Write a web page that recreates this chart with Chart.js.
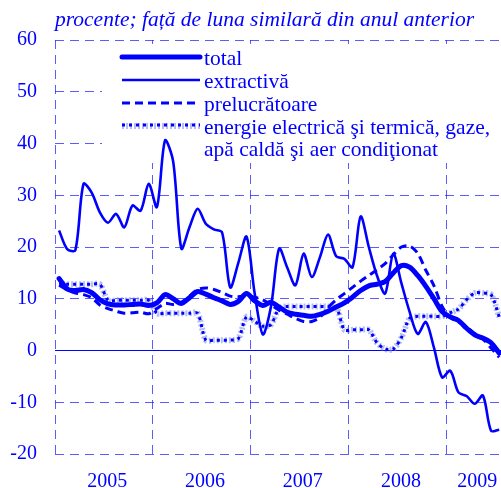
<!DOCTYPE html>
<html>
<head>
<meta charset="utf-8">
<script src="https://cdn.jsdelivr.net/npm/chart.js@4.4.1/dist/chart.umd.min.js"></script>
<style>
html, body { margin: 0; padding: 0; background: #fff; overflow: hidden; }
#wrap { width: 501px; height: 488px; }
</style>
</head>
<body>
<div id="wrap"><canvas id="grafic" width="501" height="488"></canvas></div>
<script>
// luni: ianuarie 2005 - iulie 2009 (index 0..54)
const ani = ['2005', '2006', '2007', '2008', '2009'];

const total = [
    13.9, 11.9, 11.6, 11.8, 11.2, 9.8, 9.0, 8.8, 8.8, 8.9, 9.0, 8.7,
    9.2, 10.8, 10.0, 9.1, 10.2, 11.4, 10.9, 10.2, 9.6, 8.9, 9.5, 11.0,
    9.6, 8.7, 9.3, 8.4, 7.4, 7.0, 6.8, 6.6, 7.0, 7.6, 8.4, 9.2,
    10.3, 11.6, 12.5, 12.8, 13.3, 15.0, 16.4, 16.1, 14.5, 12.4, 10.0, 7.5,
    6.5, 5.8, 4.3, 3.0, 2.4, 1.5, -0.5
];
const extractiva = [
    23.2, 19.6, 19.4, 32.2, 30.5, 26.7, 24.7, 26.4, 23.8, 28.0, 27.0, 32.2,
    27.7, 40.6, 36.5, 19.7, 23.8, 27.4, 24.5, 23.4, 22.8, 12.2, 17.0, 22.0,
    11.0, 3.1, 8.5, 19.7, 16.0, 12.6, 18.7, 14.2, 18.0, 22.4, 18.2, 17.7,
    16.1, 25.9, 20.0, 14.5, 11.0, 18.7, 13.0, 7.5, 3.2, 5.5, 0.5, -5.2,
    -3.9, -8.1, -8.8, -10.3, -8.7, -15.5, -15.3
];
const prelucratoare = [
    12.6, 11.7, 11.1, 10.8, 10.2, 8.8, 8.1, 7.6, 7.2, 7.3, 7.4, 7.1,
    8.1, 9.1, 8.9, 9.3, 10.5, 11.8, 12.1, 11.8, 11.2, 10.5, 10.4, 10.6,
    10.3, 9.8, 8.8, 7.8, 7.0, 6.2, 5.6, 5.6, 6.4, 8.3, 9.8, 11.0,
    12.2, 13.4, 14.5, 15.6, 16.8, 18.5, 20.0, 20.2, 18.8, 15.5, 12.5, 8.5,
    6.4, 5.5, 4.5, 3.3, 2.2, 0.5, -1.3
];
const energie = [
    12.8, 12.8, 12.8, 12.8, 12.8, 12.8, 9.7, 9.7, 9.7, 9.7, 9.7, 9.7,
    7.2, 7.2, 7.2, 7.2, 7.2, 7.2, 2.0, 2.0, 2.0, 2.0, 2.3, 6.5,
    5.6, 4.7, 5.0, 8.2, 8.5, 8.5, 8.5, 8.5, 8.5, 8.5, 8.4, 4.0,
    4.0, 4.0, 4.0, 1.5, 0.3, 0.3, 2.5, 6.2, 6.6, 6.6, 6.6, 6.6,
    7.3, 8.0, 9.8, 11.1, 11.1, 10.8, 6.5
];
const serii = ['total', 'extractivă', 'prelucrătoare', 'energie electrică şi termică, gaze,', 'apă caldă şi aer condiţionat'];
const titlu = 'procente; față de luna similară din anul anterior';

const ALBASTRU = '#0000ff';
const GRILA = 'rgba(30, 30, 255, 0.72)';
const DESCHIS = 'rgba(120, 135, 235, 0.55)';
const FONT = '"Liberation Serif", "Times New Roman", serif';

function puncte(serie) {
    return serie.map((v, i) => ({ x: i, y: v }));
}

// titlul si legenda desenate direct pe canvas
const legenda = {
    id: 'legenda',
    beforeDatasetsDraw(chart) {
        const c = chart.ctx;
        c.save();
        c.fillStyle = '#fff';
        c.fillRect(102, 44, chart.width - 102, 119);
        const x0 = 122, x1 = 200, xt = 204;
        const linie = (y, w, dash, col, cap) => {
            c.beginPath();
            c.setLineDash(dash);
            c.lineWidth = w;
            c.strokeStyle = col;
            c.lineCap = cap || 'butt';
            c.moveTo(x0, y);
            c.lineTo(x1, y);
            c.stroke();
        };
        linie(57, 5, [], ALBASTRU, 'round');
        linie(80, 2.6, [], ALBASTRU);
        linie(103, 3, [8, 5], ALBASTRU);
        linie(126, 6, [2, 2], DESCHIS);
        linie(125, 3, [3, 4], ALBASTRU);
        c.setLineDash([]);
        c.fillStyle = ALBASTRU;
        c.font = '21.5px ' + FONT;
        c.textBaseline = 'middle';
        c.textAlign = 'left';
        [57, 80, 103, 126, 148].forEach((y, i) => c.fillText(serii[i], xt, y + 2));
        c.restore();
    },
    afterDraw(chart) {
        const c = chart.ctx;
        c.save();
        c.fillStyle = ALBASTRU;
        c.font = 'italic 21.5px ' + FONT;
        c.textBaseline = 'alphabetic';
        c.fillText(titlu, 55, 26);
        c.restore();
    }
};

new Chart(document.getElementById('grafic'), {
    type: 'line',
    data: {
        datasets: [
            { label: serii[0], data: puncte(total), borderColor: ALBASTRU, borderWidth: 5, borderCapStyle: 'round', borderJoinStyle: 'round' },
            { label: serii[1], data: puncte(extractiva), borderColor: ALBASTRU, borderWidth: 2.6 },
            { label: serii[2], data: puncte(prelucratoare), borderColor: ALBASTRU, borderWidth: 3, borderDash: [8, 5] },
            { label: serii[3], data: puncte(energie), borderColor: ALBASTRU, borderWidth: 3, borderDash: [3, 4] },
            { label: serii[3], data: puncte(energie), borderColor: DESCHIS, borderWidth: 6, borderDash: [2, 2] }
        ]
    },
    options: {
        responsive: false,
        animation: false,
        layout: { autoPadding: false, padding: { top: 40, left: 0, right: 0, bottom: 0 } },
        elements: {
            point: { radius: 0 },
            line: { tension: 0.3, fill: false }
        },
        plugins: {
            legend: { display: false },
            tooltip: { enabled: false }
        },
        scales: {
            x: {
                type: 'linear',
                min: -0.5,
                max: 54.22,
                grid: { display: false },
                border: { display: false },
                afterBuildTicks: s => { s.ticks = [5.9, 17.9, 29.9, 41.95, 51.3].map(v => ({ value: v })); },
                ticks: {
                    color: ALBASTRU,
                    font: { family: FONT, size: 20 },
                    padding: 8,
                    maxRotation: 0,
                    autoSkip: false,
                    callback: (v, i) => ani[i]
                },
                afterFit: s => { s.height = 34; s.paddingLeft = 0; s.paddingRight = 0; }
            },
            xg: {
                type: 'linear',
                position: 'top',
                min: -0.5,
                max: 54.22,
                afterBuildTicks: s => { s.ticks = [-0.5, 11.5, 23.5, 35.5, 47.5].map(v => ({ value: v })); },
                ticks: { display: false },
                grid: { color: GRILA, drawTicks: false },
                border: { display: false, dash: [9, 6] },
                afterFit: s => { s.height = 0; s.paddingLeft = 0; s.paddingRight = 0; }
            },
            y: {
                min: -20,
                max: 60,
                ticks: {
                    stepSize: 10,
                    color: ALBASTRU,
                    font: { family: FONT, size: 20 },
                    padding: 18
                },
                grid: {
                    drawTicks: false,
                    color: ctx => (ctx.tick && ctx.tick.value === 0) ? ALBASTRU : GRILA
                },
                border: {
                    display: false,
                    dash: ctx => (ctx.tick && ctx.tick.value === 0) ? [] : [9, 6]
                },
                afterFit: s => { s.width = 55; s.paddingTop = 0; s.paddingBottom = 0; }
            }
        }
    },
    plugins: [legenda]
});
</script>
</body>
</html>
